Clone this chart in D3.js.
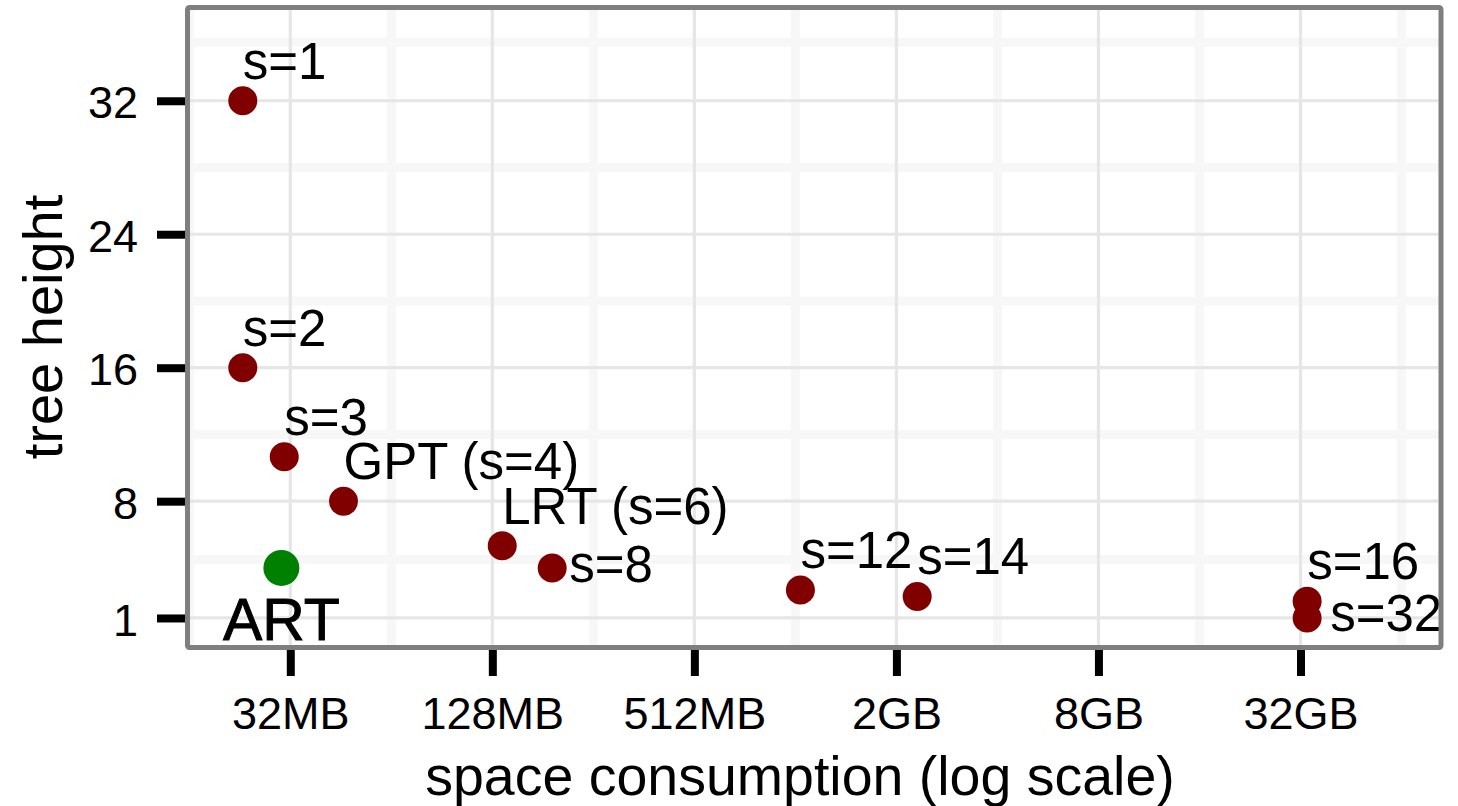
<!DOCTYPE html>
<html>
<head>
<meta charset="utf-8">
<script src="https://cdn.jsdelivr.net/npm/d3@7"></script>
<style>
    body { margin: 0; background: #fff; }
    text { font-family: "Liberation Sans", Arial, Helvetica, sans-serif; fill: #000; }
</style>
</head>
<body>
<svg id="chart"></svg>
<script>
// Data (space in MB, height in levels)
const labels = ['s=1', 's=2', 's=3', 'GPT (s=4)', 'LRT (s=6)', 's=8', 's=12', 's=14', 's=16', 's=32', 'ART'];
const spaceMB = [23.1, 23.1, 30.7, 46.1, 137, 193, 1060, 2362, 34300, 34300, 30.1];
const treeHeight = [32, 16, 10.67, 8, 5.33, 4, 2.67, 2.29, 2, 1, 4];
const kind = ['radix', 'radix', 'radix', 'radix', 'radix', 'radix', 'radix', 'radix', 'radix', 'radix', 'art'];

const xTickValues = [32, 128, 512, 2048, 8192, 32768];
const xTickLabels = ['32MB', '128MB', '512MB', '2GB', '8GB', '32GB'];
const yTickValues = [1, 8, 16, 24, 32];
const xMinorValues = [16, 64, 256, 1024, 4096, 16384, 65536];
const yMinorValues = [4.5, 12, 20, 28, 35.5];

// Layout
const CONFIG = {
    width: 1458,
    height: 806,
    panel: { left: 190, right: 1438.5, top: 10, bottom: 645 },
    xDomain: [16.08, 84480],
    yDomain: [-0.62, 37.44],
    colors: { radix: '#800000', art: '#008000' },
    radius: { radix: 14.5, art: 18 }
};

// Where each label sits relative to its point
const placement = {
    's=8':  { dx: 17, dy: 14, anchor: 'start', size: 51, stroke: 0 },
    's=32': { dx: 23, dy: 13, anchor: 'start', size: 51, stroke: 0 },
    'ART':  { dx: 0, dy: 72, anchor: 'middle', size: 59, stroke: 0.9 }
};
const defaultPlacement = { dx: 0, dy: -22, anchor: 'start', size: 51, stroke: 0 };
const place = d => placement[d.label] || defaultPlacement;

const P = CONFIG.panel;

const svg = d3.select('#chart')
    .attr('width', CONFIG.width)
    .attr('height', CONFIG.height);

const x = d3.scaleLog().base(2)
    .domain(CONFIG.xDomain)
    .range([P.left, P.right]);

const y = d3.scaleLinear()
    .domain(CONFIG.yDomain)
    .range([P.bottom, P.top]);

// Clip for the panel contents
svg.append('clipPath').attr('id', 'panel-clip')
    .append('rect')
    .attr('x', P.left).attr('y', P.top)
    .attr('width', P.right - P.left).attr('height', P.bottom - P.top);

const grid = svg.append('g').attr('clip-path', 'url(#panel-clip)');

// Minor grid
grid.selectAll('.minor-x')
    .data(xMinorValues)
    .enter().append('line')
    .attr('x1', d => x(d)).attr('x2', d => x(d))
    .attr('y1', P.top).attr('y2', P.bottom)
    .style('stroke', '#f7f7f7').style('stroke-width', 9);

grid.selectAll('.minor-y')
    .data(yMinorValues)
    .enter().append('line')
    .attr('y1', d => y(d)).attr('y2', d => y(d))
    .attr('x1', P.left).attr('x2', P.right)
    .style('stroke', '#f7f7f7').style('stroke-width', 9);

// Major grid
grid.selectAll('.major-x')
    .data(xTickValues)
    .enter().append('line')
    .attr('x1', d => x(d)).attr('x2', d => x(d))
    .attr('y1', P.top).attr('y2', P.bottom)
    .style('stroke', '#e6e6e6').style('stroke-width', 3.2);

grid.selectAll('.major-y')
    .data(yTickValues)
    .enter().append('line')
    .attr('y1', d => y(d)).attr('y2', d => y(d))
    .attr('x1', P.left).attr('x2', P.right)
    .style('stroke', '#e6e6e6').style('stroke-width', 3.2);

// Points
const data = labels.map((label, i) => ({
    label: label,
    space: spaceMB[i],
    height: treeHeight[i],
    kind: kind[i]
}));

svg.selectAll('circle')
    .data(data)
    .enter()
    .append('circle')
    .attr('cx', d => x(d.space))
    .attr('cy', d => y(d.height))
    .attr('r', d => CONFIG.radius[d.kind])
    .style('fill', d => CONFIG.colors[d.kind]);

// Point labels
svg.selectAll('.point-label')
    .data(data)
    .enter()
    .append('text')
    .attr('class', 'point-label')
    .attr('x', d => x(d.space) + place(d).dx)
    .attr('y', d => y(d.height) + place(d).dy)
    .attr('text-anchor', d => place(d).anchor)
    .style('font-size', d => place(d).size + 'px')
    .style('stroke', '#000')
    .style('stroke-width', d => place(d).stroke)
    .text(d => d.label);

// Panel border
svg.append('rect')
    .attr('x', 187.5).attr('y', 7.5)
    .attr('width', 1441 - 187.5).attr('height', 647.5 - 7.5)
    .attr('rx', 2)
    .style('fill', 'none')
    .style('stroke', '#7f7f7f')
    .style('stroke-width', 5);

// Axes
const xAxis = d3.axisBottom(x)
    .tickValues(xTickValues)
    .tickFormat((d, i) => xTickLabels[i])
    .tickSize(26)
    .tickPadding(21);

const gx = svg.append('g')
    .attr('transform', 'translate(0,650)')
    .call(xAxis);

const yAxis = d3.axisLeft(y)
    .tickValues(yTickValues)
    .tickFormat(d3.format('d'))
    .tickSize(28)
    .tickPadding(19);

const gy = svg.append('g')
    .attr('transform', 'translate(185,0)')
    .call(yAxis);

[gx, gy].forEach(g => {
    g.select('.domain').remove();
    g.selectAll('.tick line')
        .style('stroke', '#000')
        .style('stroke-width', 8);
    g.selectAll('.tick text')
        .style('font-size', '45px')
        .style('font-family', '"Liberation Sans", Arial, Helvetica, sans-serif')
        .style('fill', '#000');
});
gy.selectAll('.tick text').attr('dy', '0.38em');

// Axis titles
svg.append('text')
    .attr('x', 800)
    .attr('y', 795)
    .attr('text-anchor', 'middle')
    .style('font-size', '55.5px')
    .text('space consumption (log scale)');

svg.append('text')
    .attr('transform', 'translate(62,327) rotate(-90)')
    .attr('text-anchor', 'middle')
    .style('font-size', '56px')
    .text('tree height');
</script>
</body>
</html>
